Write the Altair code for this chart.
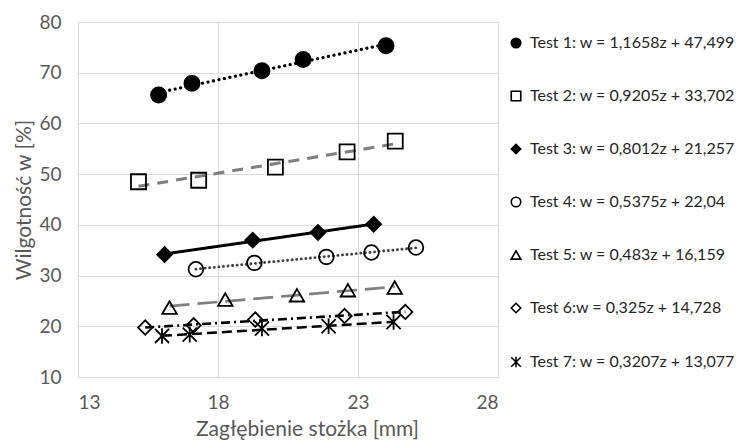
import altair as alt
import pandas as pd

labels = [
    "Test 1: w = 1,1658z + 47,499",
    "Test 2: w = 0,9205z + 33,702",
    "Test 3: w = 0,8012z + 21,257",
    "Test 4: w = 0,5375z + 22,04",
    "Test 5: w = 0,483z + 16,159",
    "Test 6:w = 0,325z + 14,728",
    "Test 7: w = 0,3207z + 13,077",
]
ids = ["T1", "T2", "T3", "T4", "T5", "T6", "T7"]

z1 = [15.88, 17.07, 19.57, 21.04, 24.00]
w1 = [65.6, 67.9, 70.4, 72.6, 75.3]
z2 = [15.16, 17.31, 20.05, 22.61, 24.33]
w2 = [48.5, 48.8, 51.4, 54.4, 56.5]
z3 = [16.09, 19.24, 21.57, 23.56]
w3 = [34.15, 36.98, 38.5, 40.13]
z4 = [17.21, 19.30, 21.87, 23.48, 25.07]
w4 = [31.25, 32.5, 33.68, 34.55, 35.54]
z5 = [16.27, 18.26, 20.82, 22.64, 24.31]
w5 = [23.7, 25.27, 26.12, 27.11, 27.64]
z6 = [15.40, 17.13, 19.33, 22.52, 24.69]
w6 = [19.75, 20.2, 21.33, 22.04, 22.83]
z7 = [16.0, 16.99, 19.57, 21.95, 24.27]
w7 = [18.1, 18.36, 19.55, 20.0, 20.85]

zs = [z1, z2, z3, z4, z5, z6, z7]
ws = [w1, w2, w3, w4, w5, w6, w7]

rows = []
for lab, sid, zz, ww in zip(labels, ids, zs, ws):
    for a, b in zip(zz, ww):
        rows.append({"series": lab, "sid": sid, "z": a, "w": b})
df = pd.DataFrame(rows)

FONT = "Lato"
star = "M-1,-1L1,1M1,-1L-1,1M0,-1.1L0,1.1"
shapes = ["circle", "square", "diamond", "circle", "triangle-up", "diamond", star]
fills = ["black", "transparent", "black", "transparent", "transparent", "transparent", "transparent"]
strokes = ["black"] * 7
sizes = [230, 200, 170, 170, 150, 110, 90]
line_colors = ["black", "#7f7f7f", "black", "#404040", "#7f7f7f", "black", "black"]
dashes = [[0.1, 5.5], [11, 8], [1, 0], [0.1, 4.5], [20, 8], [9, 4, 2, 4], [10, 5]]
widths = [3.2, 2.5, 2.5, 2.0, 2.5, 2.2, 2.5]

xs = alt.Scale(domain=[13, 28], nice=False, zero=False)
ys = alt.Scale(domain=[10, 80], nice=False, zero=False)

xaxis = alt.Axis(values=[13, 18, 23, 28], title="Zagłębienie stożka [mm]",
                 titleX=229, titleAlign="center", titlePadding=6, labelPadding=16)
yaxis = alt.Axis(values=[10, 20, 30, 40, 50, 60, 70, 80], title="Wilgotność w [%]",
                 labelPadding=17, titlePadding=4)

leg = alt.Legend(orient="none", legendX=430, legendY=13, padding=0, title=None,
                 labelFont=FONT, labelFontSize=16, labelColor="#262626", labelOffset=6,
                 symbolStrokeWidth=1.6, symbolSize=90,
                 rowPadding=37, labelLimit=400)

base = alt.Chart(df)

dot_ids = ["T1", "T4"]


def line_layer(filter_expr, cap):
    return base.transform_regression("z", "w", groupby=["sid"]).transform_filter(
        filter_expr
    ).mark_line(strokeCap=cap).encode(
        x=alt.X("z:Q", scale=xs, axis=xaxis),
        y=alt.Y("w:Q", scale=ys, axis=yaxis),
        detail="sid:N",
        color=alt.Color("sid:N", scale=alt.Scale(domain=ids, range=line_colors), legend=None),
        strokeDash=alt.StrokeDash("sid:N", scale=alt.Scale(domain=ids, range=dashes), legend=None),
        strokeWidth=alt.StrokeWidth("sid:N", scale=alt.Scale(domain=ids, range=widths), legend=None),
    )


lines_dot = line_layer(alt.FieldOneOfPredicate(field="sid", oneOf=dot_ids), "round")
lines_other = line_layer(
    {"not": alt.FieldOneOfPredicate(field="sid", oneOf=dot_ids)}, "butt")

points = base.mark_point(filled=False, strokeWidth=1.8, opacity=1).encode(
    x=alt.X("z:Q", scale=xs, axis=xaxis),
    y=alt.Y("w:Q", scale=ys, axis=yaxis),
    shape=alt.Shape("series:N", scale=alt.Scale(domain=labels, range=shapes), legend=leg),
    fill=alt.Fill("series:N", scale=alt.Scale(domain=labels, range=fills), legend=leg),
    stroke=alt.Stroke("series:N", scale=alt.Scale(domain=labels, range=strokes), legend=leg),
    size=alt.Size("sid:N", scale=alt.Scale(domain=ids, range=sizes), legend=None),
)

chart = alt.layer(lines_other, lines_dot, points).properties(
    width=420, height=355,
    autosize=alt.AutoSizeParams(type="none"),
    padding={"left": 70, "top": 14, "right": 240, "bottom": 64},
).configure_view(stroke=None).configure_axis(
    grid=True, gridColor="#d9d9d9", gridWidth=1, domain=False, ticks=False,
    labelFont=FONT, labelFontSize=19, labelColor="#595959",
    titleFont=FONT, titleFontSize=21, titleColor="#595959", titleFontWeight="normal",
)

chart.save("out.html", embed_options={"renderer": "svg", "actions": False})
